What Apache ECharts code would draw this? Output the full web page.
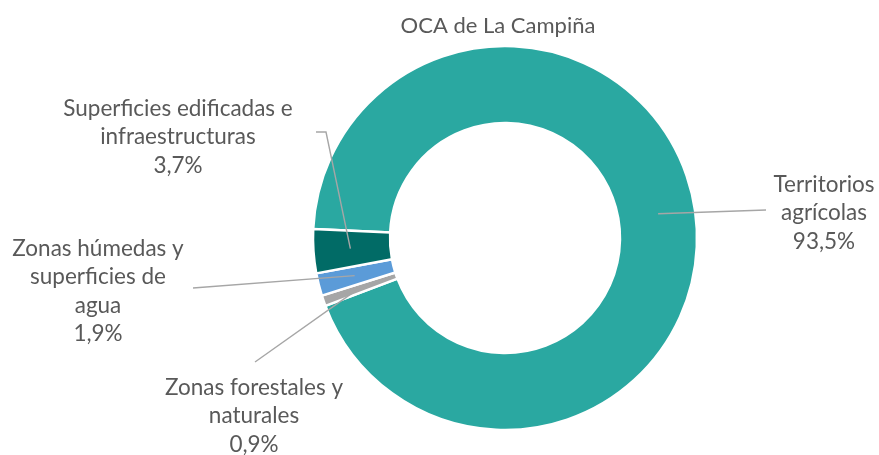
<!DOCTYPE html>
<html><head><meta charset="utf-8">
<script src="https://cdn.jsdelivr.net/npm/echarts@6/dist/echarts.min.js"></script>
<style>html,body{margin:0;padding:0;background:#fff}#c{width:879px;height:455px}</style>
</head><body><div id="c"></div>
<script>
// ---- data ----
const titleText = 'OCA de La Campiña';
const categories = [
  'Territorios\nagrícolas',
  'Zonas forestales y\nnaturales',
  'Zonas húmedas y\nsuperficies de\nagua',
  'Superficies edificadas e\ninfraestructuras'
];
const values = [93.5, 0.9, 1.9, 3.7];
const colors = ['#2AA8A1', '#A6A6A6', '#5B9BD8', '#016B66'];

// ---- layout ----
const CX = 505, CY = 238, R0 = 115, R1 = 192, START = 177.3;
const FONT = 'Lato';
const labelLayoutCfg = [
  { x: 824, y: 213, line: [[766, 210]] },
  { x: 254, y: 416, line: [[255, 362]] },
  { x: 98, y: 291, line: [[193, 288]] },
  { x: 178, y: 137, line: [[316, 132], [326, 132]] }
];

const total = values.reduce((a, b) => a + b, 0);
function midPoint(i, r) {
  let cum = 0;
  for (let k = 0; k < i; k++) cum += values[k];
  const ang = (START - 360 * (cum + values[i] / 2) / total) * Math.PI / 180;
  return [CX + r * Math.cos(ang), CY - r * Math.sin(ang)];
}

const baseSeries = {
  type: 'pie',
  center: [CX, CY],
  radius: [R0, R1],
  startAngle: START,
  clockwise: true,
  avoidLabelOverlap: false
};

const chart = echarts.init(document.getElementById('c'), null, { renderer: 'canvas' });
chart.setOption({
  animation: false,
  title: {
    text: titleText, left: 493, top: 10, textAlign: 'center',
    textStyle: { fontFamily: FONT, fontSize: 22, fontWeight: 'normal', color: '#595959' }
  },
  series: [
    Object.assign({}, baseSeries, {
      z: 2,
      itemStyle: { borderColor: '#fff', borderWidth: 2.5 },
      label: { show: false },
      labelLine: { show: false },
      data: categories.map((c, i) => ({ name: c, value: values[i], itemStyle: { color: colors[i] } }))
    }),
    Object.assign({}, baseSeries, {
      z: 6,
      silent: true,
      itemStyle: { color: 'rgba(0,0,0,0)', borderWidth: 0 },
      label: {
        show: true, position: 'outside',
        fontFamily: FONT, fontSize: 22.5, color: '#595959', lineHeight: 28.5, align: 'center',
        formatter: p => p.name + '\n' + values[p.dataIndex].toFixed(1).replace('.', ',') + '%'
      },
      labelLine: { show: true, lineStyle: { color: '#A6A6A6', width: 1.4 } },
      labelLayout: function (params) {
        const i = params.dataIndex;
        const cfg = labelLayoutCfg[i];
        const pts = cfg.line.slice();
        pts.push(midPoint(i, 155));
        return {
          x: cfg.x, y: cfg.y, align: 'center', verticalAlign: 'middle',
          labelLinePoints: pts
        };
      },
      data: categories.map((c, i) => ({ name: c, value: values[i] }))
    })
  ]
});
</script>
</body></html>
